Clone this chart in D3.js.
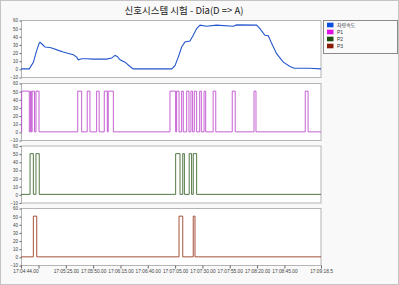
<!DOCTYPE html>
<html>
<head>
<meta charset="utf-8">
<script src="https://cdn.jsdelivr.net/npm/d3@7"></script>
<style>
body { margin:0; background:#f9f9f9; }
text { font-family: "Liberation Sans", "DejaVu Sans", sans-serif; }
</style>
</head>
<body>
<svg id="chart" width="399" height="285"></svg>
<script>
// seconds after 17:04:44.00
var speedT = [0, 7.6, 11.3, 14.4, 16.7, 17.4, 20.4, 22, 26.5, 29.6, 34.1, 38.7, 41.8, 47.9, 51, 52.4, 55.5, 60.1, 66.1, 72.3, 78.4, 83, 86, 88.1, 90.6, 95.2, 99.7, 102.7,
	137.9, 140.9, 143.9, 147, 150, 154.6, 157.6, 160.7, 163.8, 169.9, 179, 194.2, 197.3, 215.6, 218.6, 223.2, 226.3, 229.4, 233.9, 240, 246.1, 250, 264.3, 274.5];
var speedV = [0, 0, 8, 22.7, 31.7, 32.6, 29, 26.8, 26.3, 25, 22.7, 20.6, 19.4, 17.3, 14.4, 11.1, 12.4, 12.4, 12, 12, 12, 13.2, 16.5, 15.3, 11.1, 8.2, 2.9, 0,
	0, 4, 14.4, 26.8, 33, 34.2, 41.3, 49.5, 53.7, 52.4, 53.7, 52.4, 54, 53.7, 49.5, 41.3, 40.6, 31, 18.6, 8.2, 2.9, 0.8, 0.8, 0];

// pulse edges: [rise, fall] in seconds after 17:04:44.00
var p1Pulses = [[0.6, 7.6], [8.8, 9.4], [10.2, 12.4], [13.7, 16.5], [51.9, 55.5], [60.6, 63.1], [69.2, 71.5], [76.2, 79], [79.8, 84.5],
	[136.3, 141.5], [142.4, 144.6], [147, 148.5], [151.6, 153.7], [155.5, 157], [158.6, 160.7], [163.5, 165], [167.5, 169], [175.8, 178.2], [193.3, 196], [213.2, 215], [260.1, 262.7]];
var p2Pulses = [[8.3, 11.3], [13.7, 16.7], [141.5, 145.5], [148, 149.5], [153.9, 156.1], [157.6, 160.7]];
var p3Pulses = [[11.3, 14.4], [144.6, 148], [157.6, 159.2]];

var seriesNames = ['차량속도', 'P1', 'P2', 'P3'];
var lineColors = ['#2456cc', '#bf4fcf', '#3f6a30', '#9c3f25'];
var swatchColors = ['#0a4ee0', '#e010e0', '#1f4a10', '#8a1a08'];
var yTicks = [-10, 0, 10, 20, 30, 40, 50, 60];
var xTickLabels = ['17:04:44.00', '', '17:05:25.00', '17:05:50.00', '17:06:15.00', '17:06:40.00', '17:07:05.00', '17:07:30.00', '17:07:55.00', '17:08:20.00', '17:08:45.00', '17:09:18.5'];
var xTickSecs = [0, 16, 41, 66, 91, 116, 141, 166, 191, 216, 241, 274.5];
var title = '신호시스템 시험 - Dia(D => A)';

var base = new Date(2020, 0, 1, 17, 4, 44);
function toDate(s) { return new Date(base.getTime() + s * 1000); }

function pulsesToSteps(pulses) {
	var pts = [{t: 0, v: 0}];
	pulses.forEach(function(p) {
		pts.push({t: p[0], v: 50});
		pts.push({t: p[1], v: 0});
	});
	pts.push({t: 274.5, v: 0});
	return pts;
}

var svg = d3.select('#chart');

svg.append('rect').attr('x', 0.5).attr('y', 0.5).attr('width', 398).attr('height', 284)
	.attr('fill', '#f9f9f9').attr('stroke', '#c4c4c4');

svg.append('text')
	.attr('x', 184).attr('y', 14)
	.style('text-anchor', 'middle')
	.style('font-family', '"Noto Sans CJK KR", sans-serif')
	.style('font-size', '9.5px')
	.attr('fill', '#222')
	.text(title);

var x = d3.scaleTime()
	.domain([toDate(0), toDate(274.5)])
	.range([21, 321]);

var panelTops = [20, 83, 145.5, 208];
var panelH = 57;

var data = [
	speedT.map(function(t, i) { return {t: t, v: speedV[i]}; }),
	pulsesToSteps(p1Pulses),
	pulsesToSteps(p2Pulses),
	pulsesToSteps(p3Pulses)
];

panelTops.forEach(function(top, k) {
	var y = d3.scaleLinear().domain([-10, 60]).range([top + panelH, top]);
	var g = svg.append('g');

	g.append('rect')
		.attr('x', 21.5).attr('y', top + 0.5)
		.attr('width', 299.5).attr('height', panelH)
		.attr('fill', '#fff').attr('stroke', '#b4b4b4');

	var yAxis = d3.axisLeft(y).tickValues(yTicks).tickSize(2).tickPadding(1.5);
	var ga = g.append('g').attr('transform', 'translate(21.5,0.5)').call(yAxis);
	ga.select('.domain').remove();
	ga.selectAll('.tick line').attr('stroke', '#666');
	ga.selectAll('.tick text').style('font-size', '4.5px').attr('fill', '#444');

	var line = d3.line()
		.x(function(d) { return x(toDate(d.t)); })
		.y(function(d) { return y(d.v); });
	if (k > 0) line.curve(d3.curveStepAfter);

	g.append('path')
		.datum(data[k])
		.attr('fill', 'none')
		.attr('stroke', lineColors[k])
		.attr('stroke-width', k === 0 ? 1.1 : 0.9)
		.attr('d', line);
});

// bottom time axis
var xAxis = d3.axisBottom(x)
	.tickValues(xTickSecs.map(toDate))
	.tickSize(3)
	.tickPadding(1)
	.tickFormat(function(d, i) { return xTickLabels[i]; });
var gx = svg.append('g').attr('transform', 'translate(0,' + (panelTops[3] + panelH + 0.5) + ')').call(xAxis);
gx.select('.domain').remove();
gx.selectAll('.tick line').attr('stroke', '#666');
gx.selectAll('.tick text').style('font-size', '4.8px').attr('fill', '#444');
gx.selectAll('.tick').filter(function(d, i) { return i === 0; }).select('text').attr('x', 4.5);

// legend
var lg = svg.append('g');
lg.append('rect').attr('x', 323.5).attr('y', 20.5).attr('width', 74).attr('height', 33)
	.attr('fill', '#fafafa').attr('stroke', '#8a8a8a');
var item = lg.selectAll('.legend')
	.data(seriesNames)
	.enter().append('g')
	.attr('class', 'legend')
	.attr('transform', function(d, i) { return 'translate(327,' + (22.7 + i * 7) + ')'; });
item.append('rect').attr('width', 6.5).attr('height', 4.6)
	.attr('fill', function(d, i) { return swatchColors[i]; });
item.append('text')
	.attr('x', 10).attr('y', 2.5).attr('dy', '0.35em')
	.style('font-family', function(d, i) { return i === 0 ? '"Noto Sans CJK KR", sans-serif' : null; })
	.style('font-size', '5px').attr('fill', '#333')
	.text(function(d) { return d; });
</script>
</body>
</html>
